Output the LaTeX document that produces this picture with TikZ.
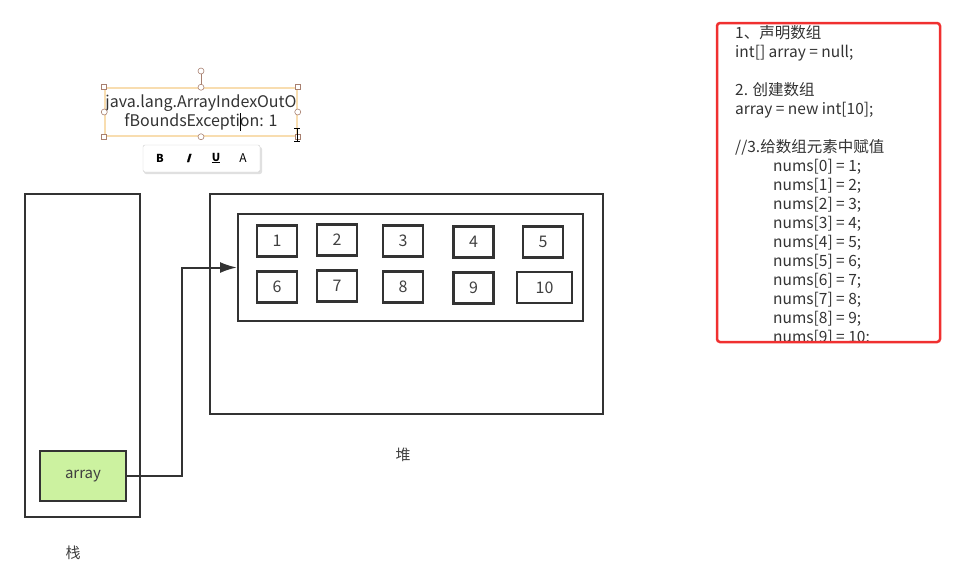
\documentclass[tikz,border=0pt]{standalone}
\usepackage{fontspec}
\setmainfont{Noto Sans CJK SC}
\newfontfamily\slantfont[FakeSlant=0.3, FakeBold=1.5]{Noto Sans CJK SC}
\usepackage{xcolor}
\usepackage{tikz}
\usetikzlibrary{
    positioning,
    arrows.meta,
    calc
}

\definecolor{linegray}{HTML}{333333}
\definecolor{arrgreen}{HTML}{CCF2A0}
\definecolor{selorange}{HTML}{F8DDB0}
\definecolor{handlebrown}{HTML}{A88070}
\definecolor{codered}{HTML}{F03030}

\begin{document}
\begin{tikzpicture}[
    x=1pt, y=-1pt,
    every node/.style={font=\fontsize{15}{17}\selectfont, text=black!75},
    frame/.style={rectangle, draw=linegray, line width=2pt, inner sep=0pt},
    cell/.style={rectangle, draw=linegray, line width=2.4pt, minimum width=40pt, minimum height=31pt, font=\fontsize{16}{18}\selectfont},
    var/.style={rectangle, draw=linegray, line width=2pt, fill=arrgreen, minimum width=86pt, minimum height=50pt},
    handle/.style={rectangle, draw=handlebrown, fill=white, line width=0.6pt, minimum size=5pt, inner sep=0pt},
    knob/.style={circle, draw=handlebrown, fill=white, line width=0.6pt, minimum size=6pt, inner sep=0pt},
    tool/.style={font=\fontsize{11}{12}\selectfont\bfseries, text=black},
    arrow/.style={-{Latex[length=17pt, width=11pt]}, line width=2pt, draw=linegray}
]
\useasboundingbox (0,0) rectangle (955,563);

% stack and heap
\node[frame, minimum width=115pt, minimum height=323pt] (stack) at (82.5,355.5) {};
\node[var] (arr) at (83,476) {array};
\node (stacklabel) at (73,553) {栈};

\node[frame, minimum width=393pt, minimum height=220pt] (heap) at (406.5,304) {};
\node[frame, minimum width=345pt, minimum height=107pt] (inner) at (410.5,267.5) {};
\node (heaplabel) at (403,455) {堆};

% array elements
\node[cell] (c1) at (277,241) {1};
\node[cell] (c2) at (337,240) {2};
\node[cell] (c3) at (403,241) {3};
\node[cell] (c4) at (473.5,242) {4};
\node[cell] (c5) at (543,242) {5};
\node[cell] (c6) at (277,287) {6};
\node[cell] (c7) at (337,286) {7};
\node[cell] (c8) at (403,287) {8};
\node[cell] (c9) at (473.5,288) {9};
\node[cell, minimum width=55pt] (c10) at (544.5,287.5) {10};

\draw[arrow] (arr.east) -- ++(55,0) |- (inner.west);

% selected text box
\node[rectangle, draw=selorange, line width=1.5pt, minimum width=192pt, minimum height=48pt, align=center, inner sep=0pt,
      font=\fontsize{16}{19}\selectfont, text=black!80] (exc) at (201,112) {java.lang.ArrayIndexOutO\\fBoundsException: 1};
\draw[black, line width=0.7pt] (240,113) -- (240,131);
\node[knob] (rot) at (201,71) {};
\draw[handlebrown, line width=0.8pt] (rot) -- (exc.north);
\node[handle] at (exc.north west) {};
\node[handle] at (exc.north east) {};
\node[handle] at (exc.south west) {};
\node[handle] at (exc.south east) {};
\node[knob] at (exc.north) {};
\node[knob] at (exc.south) {};
\node[knob] at (exc.west) {};
\node[knob] at (exc.east) {};
\draw[black, line width=0.7pt] (297,128) -- (297,141) (294,128) -- (300,128) (294,141) -- (300,141);

% toolbar
\fill[black!12, rounded corners=2pt] (144,147) rectangle (262,174);
\node[rectangle, rounded corners=2pt, draw=black!20, fill=white, minimum width=117pt, minimum height=27pt] (bar) at (201.5,158.5) {};
\node[tool] at (160,158) {B};
\node[tool] at (188,158) {\slantfont I};
\node[tool] at (216,158) {\underline{U}};
\node[tool, font=\fontsize{12}{12}\selectfont] at (243,158) {A};

% code box
\begin{scope}
\clip (717,23) rectangle (940,341);
\node[anchor=north west, align=left, inner sep=0pt, font=\fontsize{15.5}{19}\selectfont, text=black!80] (code) at (735,25) {%
1、声明数组\\
int[] array = null;\\[19pt]
2. 创建数组\\
array = new int[10];\\[19pt]
//3.给数组元素中赋值\\
\hspace*{38pt}nums[0] = 1;\\
\hspace*{38pt}nums[1] = 2;\\
\hspace*{38pt}nums[2] = 3;\\
\hspace*{38pt}nums[3] = 4;\\
\hspace*{38pt}nums[4] = 5;\\
\hspace*{38pt}nums[5] = 6;\\
\hspace*{38pt}nums[6] = 7;\\
\hspace*{38pt}nums[7] = 8;\\
\hspace*{38pt}nums[8] = 9;\\
\hspace*{38pt}nums[9] = 10;};
\end{scope}
\draw[codered, line width=2.5pt, rounded corners=3pt] (717,23) rectangle (940,342);

\end{tikzpicture}
\end{document}
